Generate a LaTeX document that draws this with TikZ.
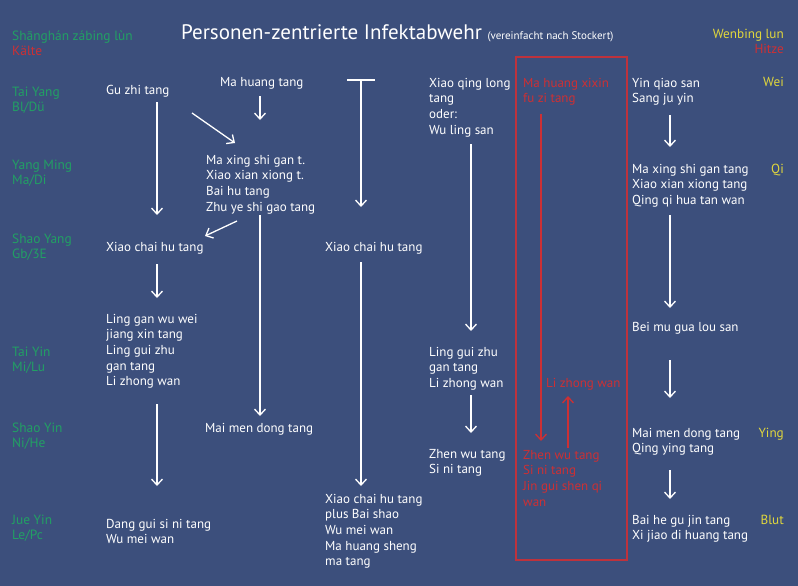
\documentclass[tikz,border=0pt]{standalone}
\usepackage{fontspec}
\setmainfont{PT Sans}
\usetikzlibrary{arrows.meta}
\definecolor{bgblue}{RGB}{60,79,124}
\definecolor{tcmgreen}{RGB}{34,160,100}
\definecolor{tcmred}{RGB}{205,48,52}
\definecolor{boxred}{RGB}{190,50,60}
\definecolor{tcmyellow}{RGB}{225,215,60}
% multi-line nodes: the base anchor sits on the baseline of the LAST line
\tikzset{
  txt/.style={anchor=base west, inner sep=0pt, align=left, text=white,
    font=\fontsize{13}{15.7}\selectfont},
  lbl/.style={anchor=base west, inner sep=0pt, align=left, text=tcmgreen,
    font=\fontsize{13.4}{15.7}\selectfont},
  rtxt/.style={txt, text=tcmred},
  ylbl/.style={anchor=base east, inner sep=0pt, text=tcmyellow,
    font=\fontsize{13.2}{15.7}\selectfont},
  arr/.style={-{Straight Barb[length=6pt,width=11pt]}, line width=1.3pt, white},
  rarr/.style={arr, draw=tcmred},
}
\begin{document}
\begin{tikzpicture}[x=1pt,y=-1pt]
\fill[bgblue] (0,0) rectangle (798,586);
\useasboundingbox (0,0) rectangle (798,586);

% header
\node[anchor=base west, inner sep=0pt, text=white, font=\fontsize{21}{24}\selectfont] (title) at (181,40)
  {Personen-zentrierte Infektabwehr {\fontsize{11}{13}\selectfont (vereinfacht nach Stockert)}};
\node[lbl] (shang) at (12,41) {Shānghán zábing lùn};
\node[lbl, text=tcmred] (kaelte) at (12,56) {Kälte};
\node[ylbl] (wenbing) at (784,39) {Wenbing lun};
\node[ylbl, text=tcmred] (hitze) at (784,54) {Hitze};

% left labels
\node[lbl] (taiyang) at (12,111.7) {Tai Yang\\Bl/Dü};
\node[lbl] (yangming) at (12,184.7) {Yang Ming\\Ma/Di};
\node[lbl] (shaoyang) at (12,258.7) {Shao Yang\\Gb/3E};
\node[lbl] (taiyin) at (12,371.7) {Tai Yin\\Mi/Lu};
\node[lbl] (shaoyin) at (12,447.7) {Shao Yin\\Ni/He};
\node[lbl] (jueyin) at (12,539.7) {Jue Yin\\Le/Pc};

% column 1
\node[txt] (guzhi) at (106,95) {Gu zhi tang};
\node[txt] (xcht1) at (106,251) {Xiao chai hu tang};
\node[txt] (linggan) at (106,385.8) {Ling gan wu wei\\jiang xin tang\\Ling gui zhu\\gan tang\\Li zhong wan};
\node[txt] (danggui) at (106,543.7) {Dang gui si ni tang\\Wu mei wan};

% column 2
\node[txt] (mahuang) at (220,87) {Ma huang tang};
\node[txt] (maxing) at (206,211.1) {Ma xing shi gan t.\\Xiao xian xiong t.\\Bai hu tang\\Zhu ye shi gao tang};
\node[txt] (maimen1) at (205,432) {Mai men dong tang};

% column 3
\node[txt] (xcht2) at (325,251) {Xiao chai hu tang};
\node[txt] (xcht3) at (325,565.8) {Xiao chai hu tang\\plus Bai shao\\Wu mei wan\\Ma huang sheng\\ma tang};

% column 4
\node[txt] (xqlt) at (429,134.1) {Xiao qing long\\tang\\oder:\\Wu ling san};
\node[txt] (linggui) at (429,387.4) {Ling gui zhu\\gan tang\\Li zhong wan};
\node[txt] (zhenwu) at (429,473.7) {Zhen wu tang\\Si ni tang};

% red box
\draw[boxred, line width=1.8pt] (516,57) rectangle (627,560);
\node[rtxt] (mhxx) at (523,102.7) {Ma huang xixin\\fu zi tang};
\node[rtxt] (lizhong) at (546,387) {Li zhong wan};
\node[rtxt] (zhenwur) at (523,506.1) {Zhen wu tang\\Si ni tang\\Jin gui shen qi\\wan};

% right column
\node[txt] (yinqiao) at (632,102.7) {Yin qiao san\\Sang ju yin};
\node[txt] (maxing2) at (632,204.4) {Ma xing shi gan tang\\Xiao xian xiong tang\\Qing qi hua tan wan};
\node[txt] (beimu) at (632,331) {Bei mu gua lou san};
\node[txt] (maimen2) at (632,452.7) {Mai men dong tang\\Qing ying tang};
\node[txt] (baihe) at (632,539.7) {Bai he gu jin tang\\Xi jiao di huang tang};
\node[ylbl] (wei) at (784,87) {Wei};
\node[ylbl] (qi) at (784,173) {Qi};
\node[ylbl] (ying) at (784,437) {Ying};
\node[ylbl] (blut) at (784,524) {Blut};

% arrow end points
\coordinate (a1s) at (157,102); \coordinate (a1e) at (157,215);
\coordinate (a2s) at (157,264); \coordinate (a2e) at (157,298);
\coordinate (a3s) at (157,404); \coordinate (a3e) at (157,486);
\coordinate (b1s) at (260,96);  \coordinate (b1e) at (260,120);
\coordinate (d1s) at (192,113); \coordinate (d1e) at (235,143);
\coordinate (d2s) at (237,221); \coordinate (d2e) at (205,236);
\coordinate (b2s) at (260,215); \coordinate (b2e) at (260,416);
\coordinate (tl) at (347,80); \coordinate (tr) at (375,80); \coordinate (tm) at (361,80);
\coordinate (c1e) at (361,207);
\coordinate (c2s) at (361,262); \coordinate (c2e) at (361,486);
\coordinate (e1s) at (471,144); \coordinate (e1e) at (471,331);
\coordinate (e2s) at (471,395); \coordinate (e2e) at (471,433);
\coordinate (r1s) at (541,114); \coordinate (r1e) at (541,441);
\coordinate (r2s) at (568,448); \coordinate (r2e) at (568,396);
\coordinate (f1s) at (670,115); \coordinate (f1e) at (670,147);
\coordinate (f2s) at (670,215); \coordinate (f2e) at (670,308);
\coordinate (f3s) at (670,360); \coordinate (f3e) at (670,398);
\coordinate (f4s) at (670,470); \coordinate (f4e) at (670,499);

\draw[arr] (a1s) -- (a1e);
\draw[arr] (a2s) -- (a2e);
\draw[arr] (a3s) -- (a3e);
\draw[arr] (b1s) -- (b1e);
\draw[arr] (d1s) -- (d1e);
\draw[arr] (d2s) -- (d2e);
\draw[arr] (b2s) -- (b2e);
\draw[white, line width=1.3pt] (tl) -- (tr);
\draw[arr] (tm) -- (c1e);
\draw[arr] (c2s) -- (c2e);
\draw[arr] (e1s) -- (e1e);
\draw[arr] (e2s) -- (e2e);
\draw[rarr] (r1s) -- (r1e);
\draw[rarr] (r2s) -- (r2e);
\draw[arr] (f1s) -- (f1e);
\draw[arr] (f2s) -- (f2e);
\draw[arr] (f3s) -- (f3e);
\draw[arr] (f4s) -- (f4e);
\end{tikzpicture}
\end{document}
